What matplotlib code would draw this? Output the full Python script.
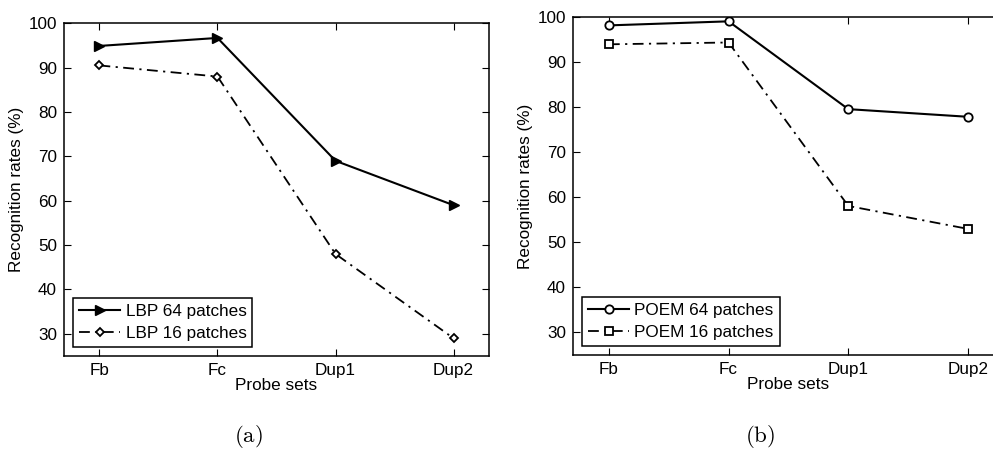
import matplotlib
matplotlib.use("Agg")
import matplotlib.pyplot as plt

categories = ["Fb", "Fc", "Dup1", "Dup2"]
lbp64 = [94.9, 96.7, 69.0, 59.0]
lbp16 = [90.5, 88.0, 48.0, 29.0]
poem64 = [98.2, 99.1, 79.6, 77.9]
poem16 = [94.0, 94.4, 58.1, 53.0]
yticks = [30, 40, 50, 60, 70, 80, 90, 100]

plt.rcParams['font.family'] = ['Liberation Sans', 'DejaVu Sans']
plt.rcParams['mathtext.fontset'] = 'cm'

FS = 12.3
fig = plt.figure(figsize=(9.93, 4.49), dpi=100)
axa = fig.add_axes([0.0645, 0.2071, 0.4279, 0.7410])
axb = fig.add_axes([0.5770, 0.2094, 0.4340, 0.7521])

x = list(range(1, len(categories) + 1))
dd = (0, (6, 3, 1.2, 3))

def style(ax):
    ax.set_xlim(0.7, 4.3)
    ax.set_ylim(25, 100)
    ax.set_xticks(x)
    ax.set_xticklabels(categories)
    ax.set_yticks(yticks)
    ax.tick_params(direction='in', top=True, right=True, labelsize=FS, length=5, width=0.8, pad=5)
    for s in ax.spines.values():
        s.set_linewidth(1.1)
    ax.set_xlabel("Probe sets", fontsize=FS, labelpad=0)
    ax.set_ylabel("Recognition rates (%)", fontsize=FS, labelpad=3)

def legend(ax):
    leg = ax.legend(loc='lower left', fontsize=FS, fancybox=False, edgecolor='black', framealpha=1,
                    handlelength=2.4, borderaxespad=0.55, borderpad=0.35, labelspacing=0.4, handletextpad=0.3)
    leg.get_frame().set_linewidth(1.1)

axa.plot(x, lbp64, '-', color='black', lw=1.5, marker='>', ms=6.5, mfc='black', label='LBP 64 patches')
axa.plot(x, lbp16, linestyle=dd, color='black', lw=1.3, marker='D', ms=4.5, mfc='white', mew=1.3, label='LBP 16 patches')
style(axa)
legend(axa)

axb.plot(x, poem64, '-', color='black', lw=1.5, marker='o', ms=6, mfc='white', mew=1.3, label='POEM 64 patches')
axb.plot(x, poem16, linestyle=dd, color='black', lw=1.3, marker='s', ms=5.5, mfc='white', mew=1.3, label='POEM 16 patches')
style(axb)
legend(axb)

fig.text(248 / 993, 1 - 436 / 449, r'$\mathrm{(a)}$', ha='center', va='center', fontsize=16.5)
fig.text(760 / 993, 1 - 436 / 449, r'$\mathrm{(b)}$', ha='center', va='center', fontsize=16.5)

fig.savefig("out.png", dpi=100)
